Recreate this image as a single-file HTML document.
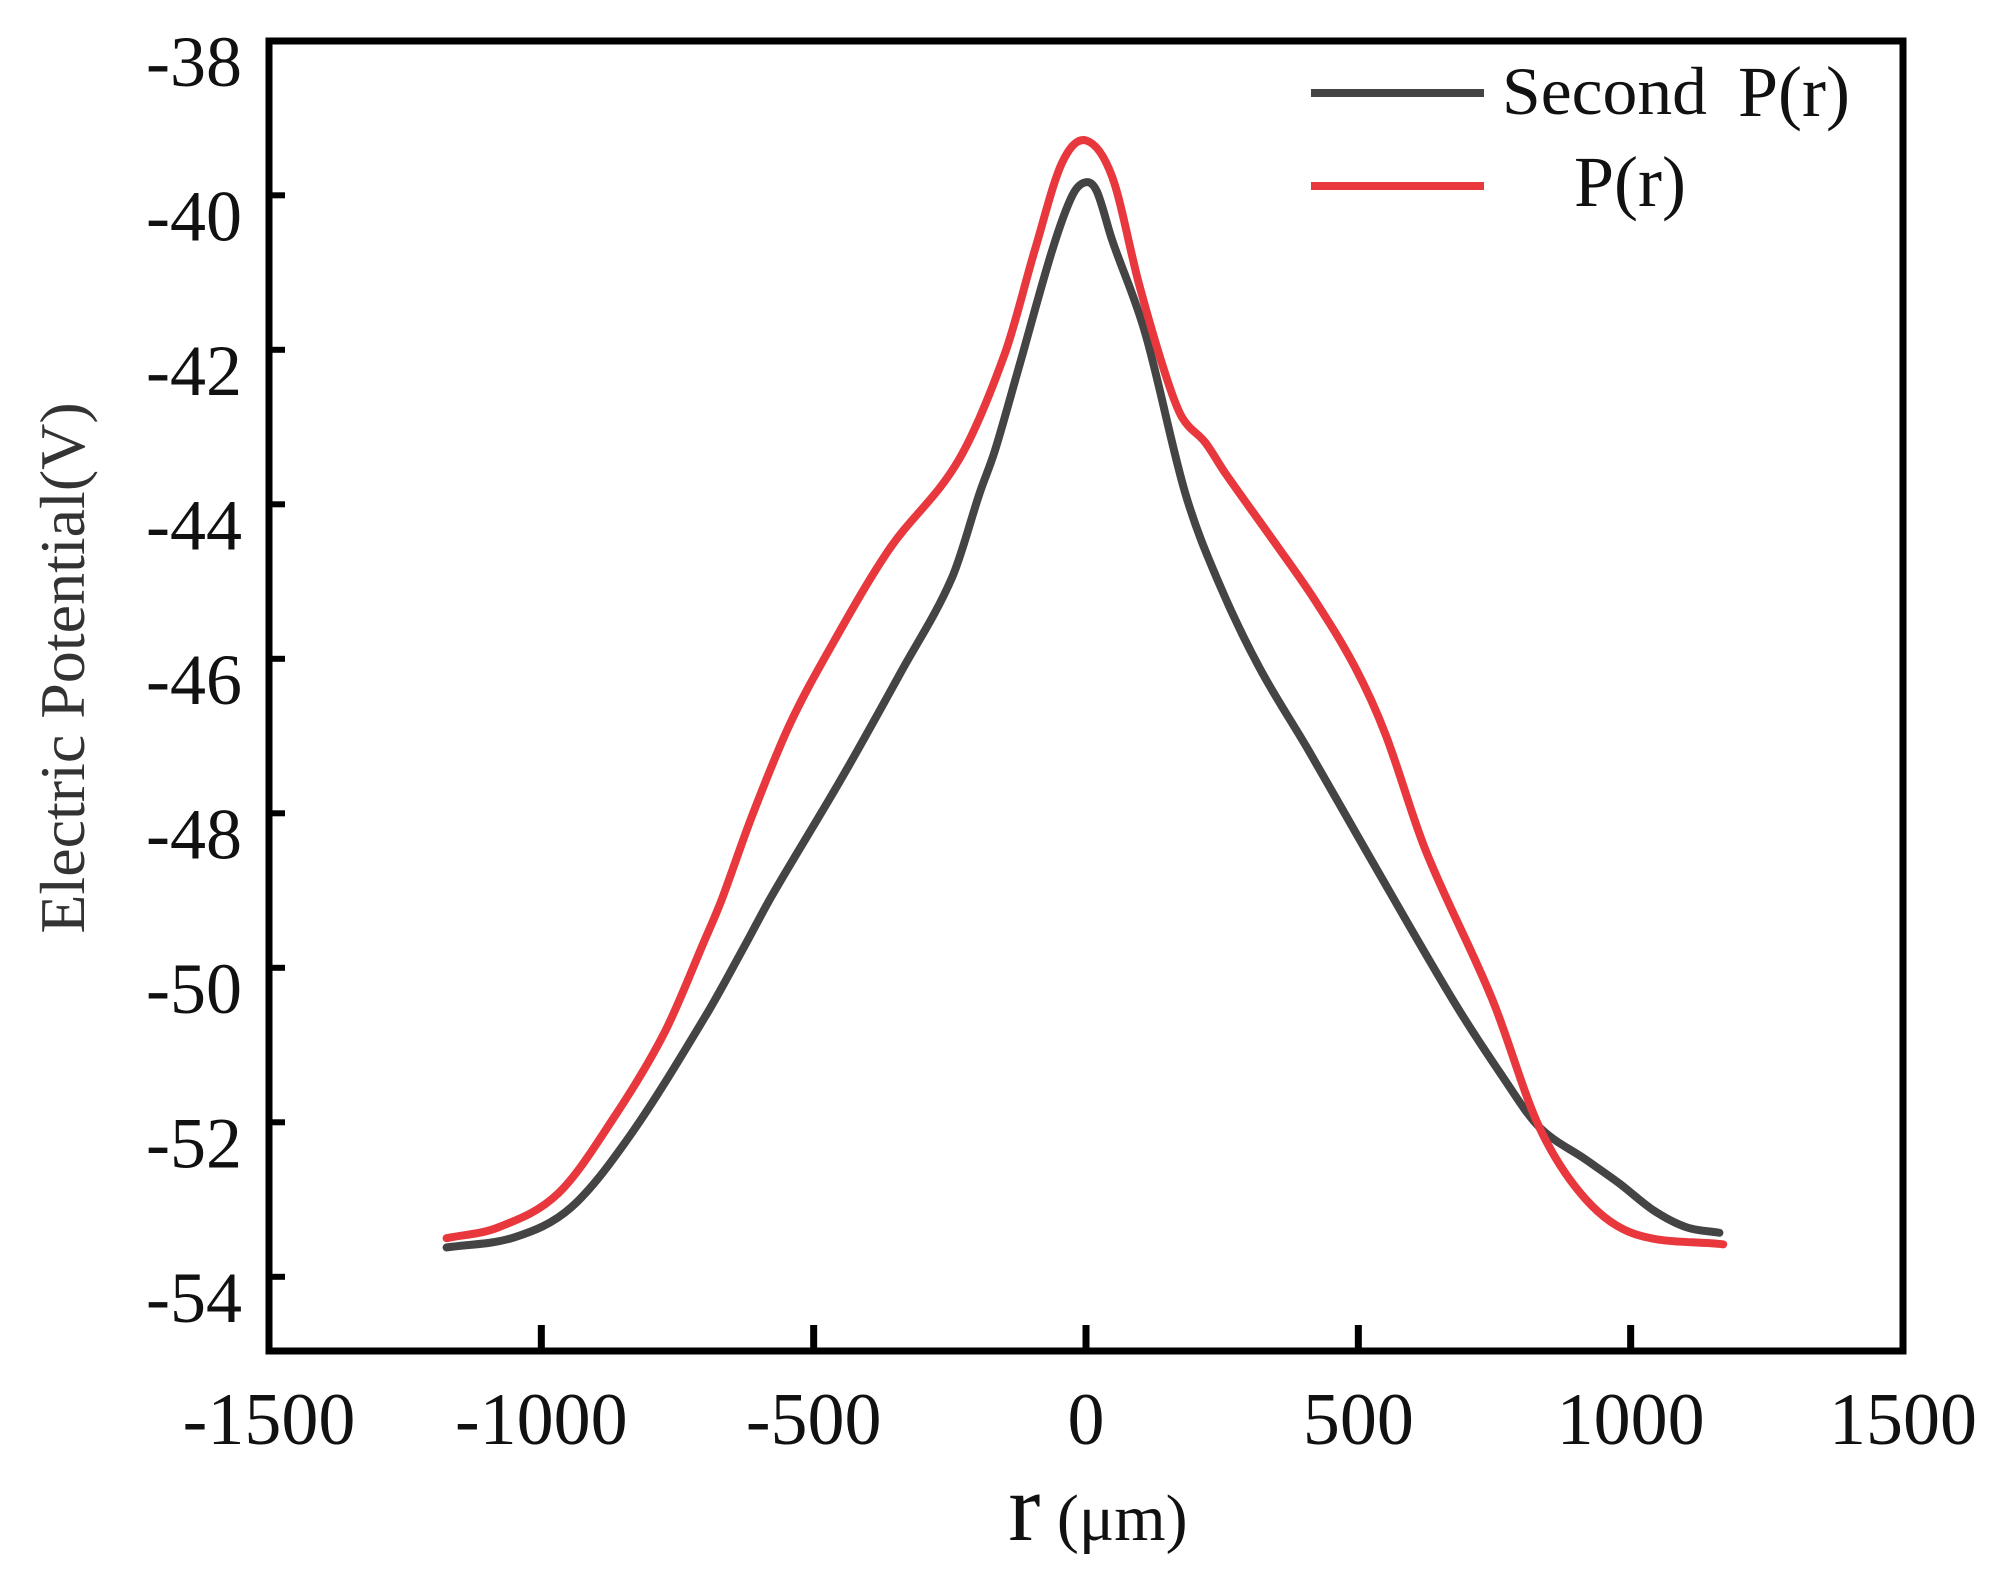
<!DOCTYPE html>
<html><head><meta charset="utf-8"><style>
html,body{margin:0;padding:0;background:#fff;}
svg{display:block;font-family:"Liberation Serif",serif;}
</style></head><body>
<svg id="chart" width="1997" height="1587" viewBox="0 0 1997 1587" xmlns="http://www.w3.org/2000/svg">
<rect x="0" y="0" width="1997" height="1587" fill="#fff"/>
<g id="axes"></g>
<g id="series"></g>
<text transform="translate(84,668) rotate(-90)" text-anchor="middle" font-size="64" fill="#333">Electric Potential(V)</text>
<g><text x="1098" y="1540" text-anchor="middle" fill="#111"><tspan font-size="96">r</tspan><tspan font-size="66"> (μm)</tspan></text></g>
<g>
<line x1="1311" y1="93" x2="1484" y2="93" stroke="#444" stroke-width="8"/>
<text x="1502" y="114" font-size="68" fill="#111" textLength="205" lengthAdjust="spacingAndGlyphs">Second</text>
<text x="1738" y="116" font-size="72" fill="#111">P(r)</text>
<line x1="1311" y1="186" x2="1484" y2="186" stroke="#e8383d" stroke-width="8"/>
<text x="1574" y="206" font-size="72" fill="#111">P(r)</text>
</g>
</svg>
<script>
const xTicks=[-1500,-1000,-500,0,500,1000,1500];
const yTicks=[-38,-40,-42,-44,-46,-48,-50,-52,-54];
const grayR=[-1174,-1050,-945,-834,-699,-627,-577,-449,-338,-246,-195,-167,-123,-62,-25,0,20,48,109,182,244,318,409,513,673,765,832,919,979,1042,1103,1163];
const grayV=[-53.62,-53.49,-53.10,-52.14,-50.63,-49.72,-49.07,-47.55,-46.15,-44.95,-43.85,-43.30,-42.22,-40.71,-40.00,-39.83,-39.95,-40.58,-41.79,-43.85,-45.02,-46.11,-47.19,-48.47,-50.41,-51.41,-52.06,-52.49,-52.79,-53.14,-53.36,-53.43];
const redR=[-1174,-1079,-969,-866,-774,-700,-669,-614,-546,-472,-362,-234,-149,-94,-44,0,48,97,145,176,219,256,348,421,494,550,623,746,832,918,1009,1170];
const redV=[-53.50,-53.36,-52.92,-51.93,-50.84,-49.64,-49.12,-48.05,-46.88,-45.89,-44.59,-43.43,-42.05,-40.71,-39.58,-39.29,-39.76,-41.14,-42.30,-42.87,-43.20,-43.60,-44.51,-45.25,-46.11,-46.98,-48.47,-50.41,-52.06,-53.00,-53.45,-53.58];

const NS="http://www.w3.org/2000/svg";
const X0=269,X1=1903,Y0=41,Y1=1351;
function sx(r){return X0+(r+1500)/3000*(X1-X0);}
function sy(v){return 195.3+(-40-v)*77.25;}
function mk(tag,attrs,parent){const e=document.createElementNS(NS,tag);for(const k in attrs)e.setAttribute(k,attrs[k]);parent.appendChild(e);return e;}
const axes=document.getElementById('axes');
const frame=mk('rect',{x:X0,y:Y0,width:X1-X0,height:Y1-Y0,fill:'none',stroke:'#000','stroke-width':7},axes);


xTicks.forEach(t=>{
  const x=sx(t);
  const tk=mk('line',{x1:x,y1:Y1,x2:x,y2:Y1-26,stroke:'#000','stroke-width':7},axes);
  
  
  const lb=mk('text',{x:x,y:1444,'text-anchor':'middle','font-size':74,fill:'#111'},axes);
  lb.textContent=String(t);
  
  
});
yTicks.forEach(t=>{
  const y=sy(t);
  if(t!==-38){
  const tk=mk('line',{x1:X0,y1:y,x2:X0+16,y2:y,stroke:'#000','stroke-width':6},axes);
  
  }
  const lb=mk('text',{x:242,y:y+45,'text-anchor':'end','font-size':72,fill:'#111'},axes);
  lb.textContent=String(t);
  
  
});
function smoothPath(xs,ys){
  const p=xs.map((r,i)=>[sx(r),sy(ys[i])]);
  const n=p.length;
  const m=p.map((q,i)=>{
    const a=p[Math.max(0,i-1)],b=p[Math.min(n-1,i+1)];
    return (b[1]-a[1])/(b[0]-a[0]);
  });
  let d='M'+p[0][0]+','+p[0][1];
  for(let i=0;i<n-1;i++){
    const b=p[i],c=p[i+1],h=(c[0]-b[0])/3;
    d+=' C'+(b[0]+h)+','+(b[1]+m[i]*h)+' '+(c[0]-h)+','+(c[1]-m[i+1]*h)+' '+c[0]+','+c[1];
  }
  return d;
}
const series=document.getElementById('series');
const g=mk('path',{d:smoothPath(grayR,grayV),fill:'none',stroke:'#444','stroke-width':8,'stroke-linejoin':'round','stroke-linecap':'round'},series);


const rl=mk('path',{d:smoothPath(redR,redV),fill:'none',stroke:'#e8383d','stroke-width':8,'stroke-linejoin':'round','stroke-linecap':'round'},series);


</script>
</body></html>
